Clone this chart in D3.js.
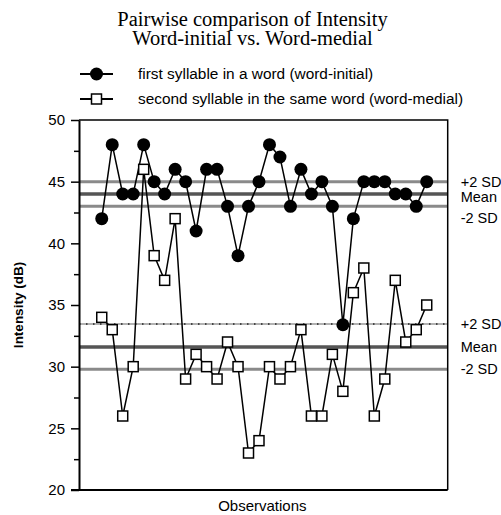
<!DOCTYPE html>
<html>
<head>
<meta charset="utf-8">
<script src="https://cdn.jsdelivr.net/npm/d3@7"></script>
<style>
  body { margin: 0; background: #fff; }
  text { font-family: Arial, "Liberation Sans", sans-serif; fill: #000; }
</style>
</head>
<body>
<script>
// Chart values
var titleLines = ["Pairwise comparison of Intensity", "Word-initial vs. Word-medial"];
var seriesNames = ["first syllable in a word (word-initial)", "second syllable in the same word (word-medial)"];
var observations = d3.range(1, 33);
var wordInitial = [42, 48, 44, 44, 48, 45, 44, 46, 45, 41, 46, 46, 43, 39, 43, 45,
                   48, 47, 43, 46, 44, 45, 43, 33.4, 42, 45, 45, 45, 44, 44, 43, 45];
var wordMedial = [34, 33, 26, 30, 46, 39, 37, 42, 29, 31, 30, 29, 32, 30, 23, 24,
                  30, 29, 30, 33, 26, 26, 31, 28, 36, 38, 26, 29, 37, 32, 33, 35];
var initialBands = [45, 44, 43];       // +2 SD, Mean, -2 SD
var medialBands = [33.45, 31.6, 29.8]; // +2 SD, Mean, -2 SD
var bandLabels = ["+2 SD", "Mean", "-2 SD"];
var majorTicks = [20, 25, 30, 35, 40, 45, 50];
var minorTicks = [22.5, 27.5, 32.5, 37.5, 42.5, 47.5];

var svgWidth = 501;
var svgHeight = 515;
var margin = { top: 120, right: 53.3, bottom: 25, left: 79 };
var chartWidth = svgWidth - margin.left - margin.right;
var chartHeight = svgHeight - margin.top - margin.bottom;

var svg = d3.select("body")
  .append("svg")
  .attr("width", svgWidth)
  .attr("height", svgHeight);

var chartGroup = svg.append("g")
  .attr("transform", `translate(${margin.left}, ${margin.top})`);

var xScale = d3.scaleLinear()
  .domain([-1.17, 34])
  .range([0, chartWidth]);

var yScale = d3.scaleLinear()
  .domain([20, 50])
  .range([chartHeight, 0]);

// title
svg.append("g").selectAll("text")
  .data(titleLines)
  .enter()
  .append("text")
  .attr("x", 252.5)
  .attr("y", (d, i) => 25.5 + i * 19)
  .attr("text-anchor", "middle")
  .style("font-family", "'Liberation Serif', 'Times New Roman', serif")
  .style("font-size", "20.5px")
  .text(d => d);

// legend
var legend = svg.append("g").attr("transform", "translate(80, 74)");
seriesNames.forEach(function (name, i) {
  var row = legend.append("g").attr("transform", `translate(0, ${i * 25})`);
  row.append("line")
    .attr("x1", 0).attr("x2", 33)
    .attr("stroke", "#000").attr("stroke-width", 2);
  if (i === 0) {
    row.append("circle").attr("cx", 16.5).attr("r", 6.5).attr("fill", "#000");
  } else {
    row.append("rect").attr("x", 11.5).attr("y", -5).attr("width", 10).attr("height", 10)
      .attr("fill", "#fff").attr("stroke", "#000").attr("stroke-width", 1.5);
  }
  row.append("text")
    .attr("x", 58)
    .attr("dy", "0.35em")
    .style("font-size", "15.4px")
    .text(name);
});

// band lines: +2 SD / Mean / -2 SD
function bandLine(y, style) {
  var line = chartGroup.append("line")
    .attr("x1", 0).attr("x2", chartWidth).attr("y1", y).attr("y2", y);
  if (style === "mean") {
    line.attr("stroke", "#555").attr("stroke-width", 3.5);
  } else if (style === "sd") {
    line.attr("stroke", "#8a8a8a").attr("stroke-width", 3);
  } else {
    // dotted gray line
    line.attr("stroke", "#999").attr("stroke-width", 1.5);
    chartGroup.append("line")
      .attr("x1", 0).attr("x2", chartWidth).attr("y1", y).attr("y2", y)
      .attr("stroke", "#222").attr("stroke-width", 1.5)
      .attr("stroke-dasharray", "1.5,5.5");
  }
}

function bandLabel(y, i) {
  chartGroup.append("text")
    .attr("x", chartWidth + 13)
    .attr("y", y)
    .attr("dy", "0.35em")
    .style("font-size", "14.5px")
    .text(bandLabels[i]);
}

// upper group: labels pushed apart so they don't collide
var upperOffsets = [0, 2.5, 12];
initialBands.forEach(function (v, i) {
  bandLine(yScale(v), i === 1 ? "mean" : "sd");
  bandLabel(yScale(v) + upperOffsets[i], i);
});

medialBands.forEach(function (v, i) {
  bandLine(yScale(v), i === 0 ? "dotted" : (i === 1 ? "mean" : "sd"));
  bandLabel(yScale(v), i);
});

// frame: top and right border
chartGroup.append("path")
  .attr("d", `M0,0H${chartWidth}V${chartHeight}`)
  .attr("fill", "none")
  .attr("stroke", "#000")
  .attr("stroke-width", 1.5);

// axes
var leftAxis = d3.axisLeft(yScale).tickValues(majorTicks).tickSize(8).tickSizeOuter(0).tickPadding(6);
var minorAxis = d3.axisLeft(yScale).tickValues(minorTicks).tickSize(5).tickFormat("");

var yAxisG = chartGroup.append("g").call(leftAxis);
yAxisG.select(".domain").attr("stroke-width", 2);
yAxisG.selectAll(".tick line").attr("stroke-width", 1.5);
yAxisG.selectAll(".tick text").style("font-size", "15px").attr("fill", "#000");

var minorG = chartGroup.append("g").call(minorAxis);
minorG.select(".domain").remove();
minorG.selectAll(".tick line").attr("stroke-width", 1.5);

chartGroup.append("line")
  .attr("x1", -8).attr("x2", chartWidth)
  .attr("y1", chartHeight).attr("y2", chartHeight)
  .attr("stroke", "#000").attr("stroke-width", 2);

// axis titles
chartGroup.append("text")
  .attr("transform", `translate(${-56}, ${chartHeight / 2}) rotate(-90)`)
  .attr("text-anchor", "middle")
  .style("font-size", "13.5px")
  .style("font-weight", "bold")
  .text("Intensity (dB)");

chartGroup.append("text")
  .attr("transform", `translate(${chartWidth / 2 - 1}, ${chartHeight + 21})`)
  .attr("text-anchor", "middle")
  .style("font-size", "15px")
  .text("Observations");

// series lines
var drawLine = d3.line()
  .x((d, i) => xScale(observations[i]))
  .y(d => yScale(d));

chartGroup.append("path")
  .attr("d", drawLine(wordMedial))
  .attr("fill", "none")
  .attr("stroke", "#000")
  .attr("stroke-width", 1.5);

chartGroup.append("path")
  .attr("d", drawLine(wordInitial))
  .attr("fill", "none")
  .attr("stroke", "#000")
  .attr("stroke-width", 1.5);

// markers: squares first, filled circles on top
chartGroup.selectAll(".sq")
  .data(wordMedial)
  .enter()
  .append("rect")
  .attr("class", "sq")
  .attr("x", (d, i) => xScale(observations[i]) - 5)
  .attr("y", d => yScale(d) - 5)
  .attr("width", 10)
  .attr("height", 10)
  .attr("fill", "#fff")
  .attr("stroke", "#000")
  .attr("stroke-width", 1.5);

chartGroup.selectAll(".dot")
  .data(wordInitial)
  .enter()
  .append("circle")
  .attr("class", "dot")
  .attr("cx", (d, i) => xScale(observations[i]))
  .attr("cy", d => yScale(d))
  .attr("r", 6.5)
  .attr("fill", "#000");
</script>
</body>
</html>
